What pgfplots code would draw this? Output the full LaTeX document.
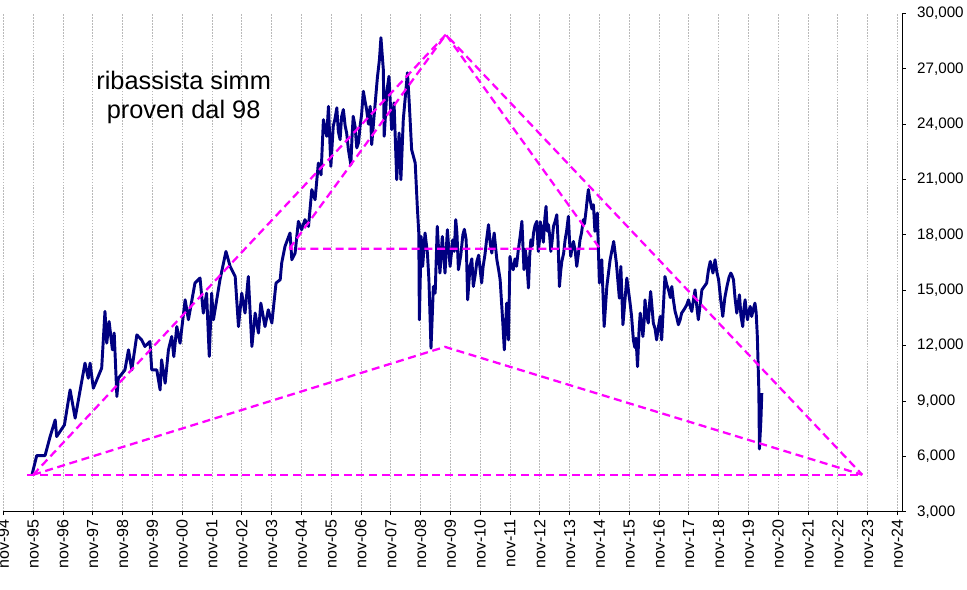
\documentclass[border=0pt]{standalone}
\usepackage{pgfplots}
\pgfplotsset{compat=1.18}
\usepackage{fontspec}
\setmainfont{Liberation Sans}
\definecolor{navyl}{RGB}{0,0,128}
\definecolor{mag}{RGB}{255,0,255}
\definecolor{gridg}{RGB}{185,185,185}
\begin{document}
\begin{tikzpicture}
\useasboundingbox (-2.5pt,-58.7pt) rectangle (722.8pt,383.8pt);
\begin{axis}[
 at={(0,0)}, anchor=south west,
 width=674.4pt, height=373.8pt, scale only axis,
 xmin=0, xmax=30.17, ymin=3000, ymax=30000,
 axis x line=bottom, axis y line=right,
 axis line style={black, line width=0.8pt, -},
 tick align=outside, major tick length=2.5pt,
 tick style={black, line width=0.6pt},
 xtick={0,...,30},
 xticklabels={nov-94,nov-95,nov-96,nov-97,nov-98,nov-99,nov-00,nov-01,nov-02,nov-03,nov-04,nov-05,nov-06,nov-07,nov-08,nov-09,nov-10,nov-11,nov-12,nov-13,nov-14,nov-15,nov-16,nov-17,nov-18,nov-19,nov-20,nov-21,nov-22,nov-23,nov-24},
 xticklabel style={rotate=90, anchor=east, font=\fontsize{12}{13}\selectfont},
 ytick={3000,6000,...,30000},
 scaled y ticks=false,
 yticklabel style={anchor=west, xshift=5pt, font=\fontsize{11.4}{12}\selectfont,
   /pgf/number format/fixed, /pgf/number format/1000 sep={,}, /pgf/number format/assume math mode=true},
 xmajorgrids, ymajorgrids=false,
 grid style={gridg, dash pattern=on 1.2pt off 1pt, line width=0.5pt},
]
\addplot[navyl, line width=2.2pt, line join=round] table {
t v
0.96 4990
1.12 6040
1.40 6040
1.57 7070
1.74 7970
1.79 7070
2.05 7700
2.24 9600
2.41 8070
2.74 11050
2.85 10230
2.91 11050
3.02 9690
3.30 10780
3.41 13850
3.47 12130
3.55 13300
3.66 11770
3.72 12680
3.81 9240
3.86 10230
4.08 10680
4.20 11770
4.31 10680
4.48 12580
4.64 12310
4.75 11950
4.92 12220
4.98 10680
5.15 10680
5.26 9600
5.31 11230
5.43 9960
5.54 11770
5.65 12490
5.72 11400
5.82 13030
5.93 12130
6.10 14480
6.21 13400
6.43 15390
6.60 15660
6.71 13760
6.82 14840
6.91 11410
6.99 14840
7.05 13400
7.27 15570
7.47 17100
7.61 16290
7.78 15740
7.89 13030
8.00 14840
8.11 13760
8.22 15740
8.34 11950
8.45 13760
8.56 12680
8.64 14300
8.78 13030
8.89 13940
9.01 13220
9.15 15390
9.29 15570
9.34 16470
9.45 17370
9.62 18100
9.68 16650
9.79 17010
9.90 18730
10.01 18280
10.12 18820
10.24 18460
10.35 20450
10.46 19900
10.57 21890
10.66 21250
10.74 24240
10.85 23340
10.91 24960
10.99 21710
11.03 22800
11.07 23880
11.13 24300
11.19 24880
11.24 23600
11.30 23160
11.35 24400
11.41 24790
11.47 23900
11.52 23520
11.58 22600
11.66 21800
11.70 23300
11.74 24420
11.80 23900
11.86 22710
11.92 23000
11.97 23880
12.02 24500
12.08 25780
12.13 25300
12.19 24790
12.25 24000
12.31 24960
12.36 22890
12.44 24420
12.55 26500
12.62 27500
12.67 28680
12.75 26960
12.78 23340
12.87 25780
12.94 26590
13.03 23700
13.11 25150
13.20 20990
13.28 23520
13.34 20990
13.42 24240
13.48 25330
13.56 26780
13.62 25150
13.70 22620
13.82 21890
13.89 19540
13.94 18100
13.96 13400
14.02 17910
14.07 16290
14.15 18100
14.23 17010
14.28 15570
14.35 11860
14.43 15200
14.49 14840
14.56 18460
14.65 15930
14.73 17910
14.82 15930
14.90 18280
14.99 16290
15.08 17730
15.13 17100
15.18 18820
15.22 18100
15.27 16110
15.35 16900
15.42 18010
15.47 18300
15.53 17730
15.58 14480
15.66 16290
15.72 16700
15.77 15200
15.83 15800
15.89 16560
15.95 16900
16.00 16110
16.05 15390
16.10 16300
16.16 16920
16.22 17800
16.28 18550
16.34 17500
16.39 17010
16.43 17600
16.47 18100
16.52 17300
16.56 16650
16.62 16100
16.67 15570
16.76 13220
16.81 11770
16.89 14300
16.95 12310
17.00 16830
17.05 16300
17.11 16110
17.17 16700
17.22 16300
17.28 17190
17.34 17900
17.40 18730
17.47 16110
17.51 17200
17.56 16650
17.62 15120
17.66 16800
17.70 17730
17.75 17400
17.79 18100
17.84 18500
17.90 18730
17.95 17100
17.99 17700
18.02 18700
18.07 18280
18.12 17600
18.17 18900
18.21 19540
18.25 18200
18.29 18550
18.33 18000
18.37 17100
18.41 17600
18.46 18460
18.51 18700
18.57 19090
18.61 17800
18.66 15200
18.70 16000
18.74 16560
18.80 17000
18.85 17730
18.90 18200
18.96 19000
19.00 17600
19.04 16830
19.08 17300
19.13 17640
19.19 17100
19.24 16290
19.29 16900
19.35 17730
19.40 18100
19.46 18820
19.50 18600
19.55 19270
19.59 19900
19.63 20450
19.67 20000
19.71 19720
19.75 19400
19.80 19630
19.85 18190
19.93 19180
20.00 15390
20.08 16650
20.16 13030
20.25 15200
20.36 16650
20.48 17640
20.57 16470
20.67 14570
20.72 16290
20.79 13130
20.92 15660
21.03 14300
21.08 13600
21.14 12310
21.19 11900
21.23 12400
21.28 10860
21.33 12800
21.37 13760
21.41 13300
21.46 12490
21.50 13300
21.53 14480
21.58 13700
21.64 13220
21.68 14200
21.72 14930
21.77 14000
21.81 13220
21.87 12900
21.92 12310
21.98 13000
22.04 13580
22.09 12310
22.14 13900
22.20 15740
22.26 15300
22.32 15020
22.38 14600
22.43 15200
22.48 14500
22.54 13850
22.60 13500
22.65 13130
22.71 13400
22.76 13760
22.82 13900
22.87 14030
22.93 14200
22.99 14480
23.05 14100
23.10 13850
23.15 14400
23.21 15020
23.27 14100
23.32 13400
23.38 14200
23.44 15020
23.52 15200
23.60 15390
23.66 16100
23.72 16560
23.76 16300
23.81 15930
23.84 16200
23.88 16650
23.94 16000
24.00 15570
24.07 14500
24.14 13580
24.21 14600
24.28 15200
24.35 15700
24.41 15930
24.45 15800
24.50 15570
24.55 14600
24.61 13760
24.66 14300
24.70 14750
24.75 13600
24.81 13030
24.85 14000
24.89 14480
24.93 13800
24.97 13400
25.02 13900
25.06 14120
25.11 13580
25.17 14000
25.22 14300
25.26 13800
25.30 12490
25.35 9600
25.37 6400
25.42 7970
25.45 9420
};
\addplot[mag, line width=1.7pt, dash pattern=on 6pt off 3.5pt] coordinates {(0.80,5000) (28.82,5000)};
\addplot[mag, line width=1.7pt, dash pattern=on 6pt off 3.5pt] coordinates {(1.0,5000) (14.85,28850) (28.82,5000)};
\addplot[mag, line width=1.7pt, dash pattern=on 6pt off 3.5pt] coordinates {(1.0,5000) (14.82,11930) (28.82,5000)};
\addplot[mag, line width=1.7pt, dash pattern=on 6pt off 3.5pt] coordinates {(9.60,17250) (14.85,28850) (20.02,17250) (9.60,17250)};
\node[align=center, font=\fontsize{19}{21.75}\selectfont] at (axis cs:6.05,25435) {ribassista simm\\proven dal 98};
\end{axis}
\end{tikzpicture}
\end{document}
